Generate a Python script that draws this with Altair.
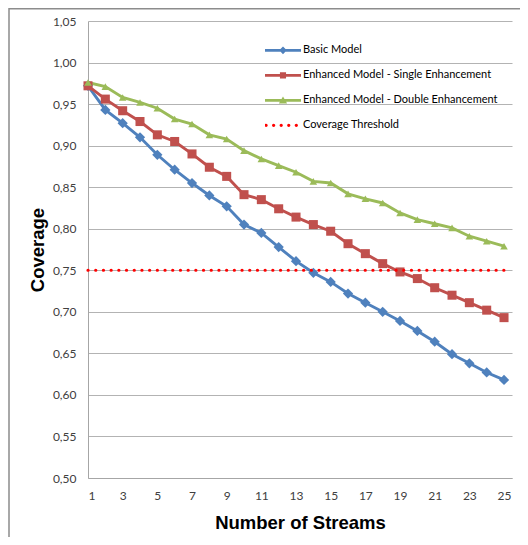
import altair as alt
import pandas as pd

# ---------------- data ----------------
x_values = [1, 2, 3, 4, 5, 6, 7, 8, 9, 10, 11, 12, 13, 14, 15, 16, 17, 18, 19, 20, 21, 22, 23, 24, 25]
basic = [0.972, 0.943, 0.927, 0.910, 0.889, 0.871, 0.855, 0.840, 0.827, 0.805, 0.795, 0.778, 0.761,
         0.747, 0.736, 0.722, 0.711, 0.700, 0.689, 0.677, 0.664, 0.649, 0.638, 0.627, 0.618]
single = [0.972, 0.956, 0.942, 0.929, 0.913, 0.905, 0.890, 0.874, 0.863, 0.841, 0.835, 0.824, 0.814,
          0.805, 0.797, 0.782, 0.770, 0.758, 0.748, 0.740, 0.729, 0.720, 0.711, 0.702, 0.693]
double = [0.976, 0.971, 0.958, 0.952, 0.945, 0.932, 0.926, 0.913, 0.908, 0.894, 0.884, 0.876, 0.868,
          0.857, 0.855, 0.842, 0.836, 0.831, 0.819, 0.811, 0.806, 0.801, 0.791, 0.785, 0.779]
threshold_x = [1, 25]
threshold_y = [0.75, 0.75]

series_names = ["Basic Model",
                "Enhanced Model - Single Enhancement",
                "Enhanced Model - Double Enhancement",
                "Coverage Threshold"]
series_colors = ["#4F81BD", "#C0504D", "#9BBB59", "#FF0000"]
x_ticks = [1, 3, 5, 7, 9, 11, 13, 15, 17, 19, 21, 23, 25]
y_ticks = [0.50, 0.55, 0.60, 0.65, 0.70, 0.75, 0.80, 0.85, 0.90, 0.95, 1.00, 1.05]

# ---------------- tables ----------------
models = pd.DataFrame({
    "x": x_values * 3,
    "y": basic + single + double,
    "series": [series_names[0]] * len(x_values) + [series_names[1]] * len(x_values)
              + [series_names[2]] * len(x_values),
})
thr = pd.DataFrame({"x": threshold_x, "y": threshold_y})
legend_df = pd.DataFrame({"series": series_names, "x": [1] * 4, "y": [0.75] * 4})
frame_df = pd.DataFrame({"a": [0]})

# legend glyphs: line + marker, and a row of dots
line_part = "M-1,-0.08L1,-0.08L1,0.08L-1,0.08Z"
glyph_basic = line_part + "M0,-0.21L0.21,0L0,0.21L-0.21,0Z"
glyph_single = line_part + "M-0.17,-0.17L0.17,-0.17L0.17,0.17L-0.17,0.17Z"
glyph_double = line_part + "M0,-0.21L0.23,0.17L-0.23,0.17Z"
r = 0.09
glyph_thr = "".join(
    f"M{cx - r:.3f},0a{r},{r} 0 1,0 {2 * r},0a{r},{r} 0 1,0 {-2 * r},0Z"
    for cx in [-0.94, -0.52, -0.10, 0.32, 0.74]
)
legend_paths = [glyph_basic, glyph_single, glyph_double, glyph_thr]

x_scale = alt.Scale(domain=[1, 25.46], nice=False, zero=False)
y_scale = alt.Scale(domain=[0.5, 1.05], nice=False, zero=False)

x_axis = alt.Axis(values=x_ticks, grid=False, ticks=False, domainColor="#a6a6a6",
                  labelPadding=12, labelFont="Lato", labelFontSize=12, labelColor="#404040",
                  title="Number of Streams", titleFont="Liberation Sans", titleFontSize=18.5,
                  titleFontWeight="bold", titleColor="#000000", titleBaseline="alphabetic",
                  titleY=50)
y_axis = alt.Axis(values=y_ticks, grid=True, gridColor="#b3b3b3", ticks=False,
                  domainColor="#a6a6a6", labelPadding=12, labelFont="Lato", labelFontSize=12,
                  labelColor="#404040",
                  labelExpr="replace(format(datum.value, '.2f'), '.', ',')",
                  title="Coverage", titleFont="Liberation Sans", titleFontSize=18.5,
                  titleFontWeight="bold", titleColor="#000000", titleBaseline="middle",
                  titleX=-51)

X = alt.X("x:Q", scale=x_scale, axis=x_axis)
Y = alt.Y("y:Q", scale=y_scale, axis=y_axis)

model_color = alt.Color("series:N", scale=alt.Scale(domain=series_names[:3], range=series_colors[:3]),
                        legend=None)

lines = alt.Chart(models).mark_line(strokeWidth=2.9).encode(
    x=X, y=Y, color=model_color, detail="series:N"
)
points = alt.Chart(models).mark_point(filled=True, opacity=1).encode(
    x=X, y=Y, color=model_color,
    shape=alt.Shape("series:N", scale=alt.Scale(domain=series_names[:3],
                                                range=["diamond", "square", "triangle-up"]),
                    legend=None),
    size=alt.Size("series:N", scale=alt.Scale(domain=series_names[:3], range=[105, 58, 135]),
                  legend=None),
)
threshold = alt.Chart(thr).mark_line(color="#FF0000", strokeWidth=3.2, strokeCap="round",
                                     strokeDash=[0.1, 7.6]).encode(x=X, y=Y)

leg = alt.Legend(title=None, orient="none", legendX=177, legendY=17, padding=0,
                 symbolSize=1296, symbolOpacity=1, symbolStrokeWidth=0,
                 clipHeight=24.7, rowPadding=0, labelOffset=2,
                 labelFont="Lato", labelFontSize=11, labelColor="#000000", labelLimit=400)
legend_layer = alt.Chart(legend_df).mark_point(filled=True, opacity=0).encode(
    x=X, y=Y,
    color=alt.Color("series:N", scale=alt.Scale(domain=series_names, range=series_colors), legend=leg),
    shape=alt.Shape("series:N", scale=alt.Scale(domain=series_names, range=legend_paths), legend=leg),
)

frame = alt.Chart(frame_df).mark_rect(fillOpacity=0, stroke="#8c8c8c", strokeWidth=1.5).encode(
    x=alt.value(-79), x2=alt.value(460), y=alt.value(-12.2), y2=alt.value(560)
)

chart = alt.layer(frame, lines, points, threshold, legend_layer).resolve_scale(
    color="independent", shape="independent", size="independent"
).properties(
    width=424, height=457,
    autosize=alt.AutoSizeParams(type="none"),
    padding={"left": 80, "top": 13, "right": 8, "bottom": 59},
    background="white",
).configure_view(stroke=None)

chart.save("out.html", embed_options={"renderer": "svg", "actions": False})
